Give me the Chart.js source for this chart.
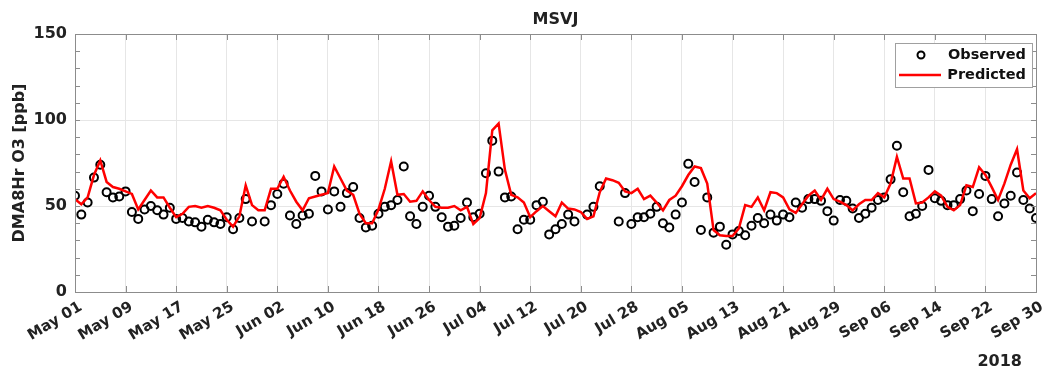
<!DOCTYPE html>
<html>
<head>
<meta charset="utf-8">
<script src="https://cdn.jsdelivr.net/npm/chart.js@4.4.0/dist/chart.umd.min.js"></script>
<style>
  body { margin: 0; background: #fff; }
</style>
</head>
<body>
<canvas id="o3Chart" width="1045" height="370"></canvas>
<script>
// one value per day, May 01 .. Sep 30 2018 (null = no observation)
const observed = [
  56, 45, 52, 66.5, 74, 58, 55, 55.5, 58.5, 46.5,
  42.5, 48, 50, 47.5, 45, 49, 42.5, 43, 41, 40.5,
  38, 42, 40.5, 39.5, 43.5, 36.5, 43, 54, 41, null,
  41, 50.5, 57, 63, 44.5, 39.5, 44.5, 45.5, 67.5, 58.5,
  48, 58.5, 49.5, 57.5, 61, 43, 37.5, 38.5, 45.5, 49.5,
  50.5, 53.5, 73, 44, 39.5, 49.5, 56, 49.5, 43.5, 38,
  38.5, 43, 52, 43.5, 45.5, 69, 88, 70, 55, 55.5,
  36.5, 42, 42, 50.5, 52.5, 33.5, 36.5, 39.5, 45, 41,
  null, 45, 49.5, 61.5, null, null, 41, 57.5, 39.5, 43.5,
  43.5, 45.5, 49.5, 40, 37.5, 45, 52, 74.5, 64, 36,
  55, 34.5, 38, 27.5, 33.5, 35.5, 33, 38.5, 43, 40,
  45, 41.5, 45, 43.5, 52, 49, 54, 54, 53, 47,
  41.5, 53.5, 53, 48.5, 43, 45.5, 49, 53.5, 55, 65.5,
  85, 58, 44, 45.5, 50, 71, 54.5, 53, 50.5, 50.5,
  54, 59, 47, 57, 67.5, 54, 44, 51.5, 56, 69.5,
  53.5, 48.5, 43
];
const predicted = [
  54, 51, 55, 68, 76.5, 64, 61, 60, 58.5, 57,
  48, 53.5, 59, 55, 55, 49, 43.5, 45.5, 49.5, 50,
  49, 50, 49, 47.5, 42, 38, 44, 62, 50.5, 47.5,
  47.5, 60, 60, 67, 59, 52.5, 47.5, 54.5, 55.5, 56.5,
  57.5, 73, 66, 59, 56.5, 45.5, 40, 40, 48, 60,
  76, 56.5, 57, 52.5, 53, 58.5, 53.5, 49.5, 49, 49,
  50, 47.5, 49.5, 39.5, 43, 57.5, 94, 98, 71, 56.5,
  55, 52, 43.5, 47, 50, 47, 44, 52, 48.5, 48,
  46.5, 42.5, 44, 58, 66, 65, 63.5, 58.5, 57.5, 60,
  54, 56, 52, 47.5, 53.5, 56, 61.5, 68, 73, 72,
  63, 36, 33, 32.5, 32.5, 37, 50.5, 49.5, 55, 47.5,
  58, 57.5, 55, 48, 46, 51, 56, 59, 53.5, 60,
  54, 52.5, 50.5, 47.5, 51, 53.5, 53.5, 57.5, 55, 63,
  78.5, 66, 66, 51.5, 52, 55, 58.5, 56, 49.5, 47.5,
  50.5, 62, 61, 72.5, 68, 61, 53.5, 63, 74, 83,
  59, 54.5, 57.5
];
const tickLabels = [
  'May 01', 'May 09', 'May 17', 'May 25', 'Jun 02', 'Jun 10', 'Jun 18',
  'Jun 26', 'Jul 04', 'Jul 12', 'Jul 20', 'Jul 28', 'Aug 05', 'Aug 13',
  'Aug 21', 'Aug 29', 'Sep 06', 'Sep 14', 'Sep 22', 'Sep 30'
];
// y ticks: labels at 0/50/100/150, minor marks every 10
const yTicks = [0, 10, 20, 30, 40, 50, 60, 70, 80, 90, 100, 110, 120, 130, 140, 150];

Chart.defaults.font.family = 'DejaVu Sans';
Chart.defaults.color = '#222';

const axisGray = '#8c8c8c';
const gridGray = '#e6e6e6';

// frame, inner tick marks, title, legend box and year label
const framePlugin = {
  id: 'framePlugin',
  afterDraw(chart) {
    const ctx = chart.ctx;
    const a = chart.chartArea;
    const xs = chart.scales.x;
    const ys = chart.scales.y;
    ctx.save();
    ctx.strokeStyle = axisGray;
    ctx.lineWidth = 1;
    ctx.beginPath();
    xs.ticks.forEach(t => {
      const px = Math.round(xs.getPixelForValue(t.value)) + 0.5;
      ctx.moveTo(px, a.bottom); ctx.lineTo(px, a.bottom - 6);
      ctx.moveTo(px, a.top); ctx.lineTo(px, a.top + 6);
    });
    ys.ticks.forEach(t => {
      const py = Math.round(ys.getPixelForValue(t.value)) + 0.5;
      ctx.moveTo(a.left, py); ctx.lineTo(a.left + 5, py);
      ctx.moveTo(a.right, py); ctx.lineTo(a.right - 5, py);
    });
    ctx.stroke();
    ctx.strokeRect(Math.round(a.left) + 0.5, Math.round(a.top) + 0.5,
      Math.round(a.right - a.left), Math.round(a.bottom - a.top));

    ctx.fillStyle = '#222';
    ctx.font = 'bold 16px "DejaVu Sans"';
    ctx.textAlign = 'center';
    ctx.textBaseline = 'alphabetic';
    ctx.fillText('MSVJ', (a.left + a.right) / 2, 24);

    ctx.textAlign = 'right';
    ctx.fillText('2018', 1022, 366);

    // legend
    const lx = 895, ly = 43, lw = 137, lh = 44;
    ctx.fillStyle = '#fff';
    ctx.fillRect(lx, ly, lw, lh);
    ctx.strokeStyle = '#a0a0a0';
    ctx.strokeRect(lx + 0.5, ly + 0.5, lw, lh);
    ctx.strokeStyle = '#000';
    ctx.lineWidth = 2;
    ctx.beginPath();
    ctx.arc(921, 55, 3.5, 0, Math.PI * 2);
    ctx.stroke();
    ctx.strokeStyle = '#ff0000';
    ctx.lineWidth = 2.5;
    ctx.beginPath();
    ctx.moveTo(899, 75); ctx.lineTo(941, 75);
    ctx.stroke();
    ctx.fillStyle = '#111';
    ctx.font = 'bold 14.5px "DejaVu Sans"';
    ctx.textAlign = 'right';
    ctx.textBaseline = 'middle';
    ctx.fillText('Observed', 1026, 55);
    ctx.fillText('Predicted', 1026, 75);
    ctx.restore();
  }
};

const chart = new Chart(document.getElementById('o3Chart'), {
  type: 'line',
  data: {
    datasets: [{
      label: 'Predicted',
      data: predicted.map((v, i) => ({ x: i, y: v })),
      borderColor: '#ff0000',
      borderWidth: 2.5,
      pointRadius: 0,
      tension: 0,
      order: 0
    }, {
      label: 'Observed',
      data: observed.map((v, i) => ({ x: i, y: v })),
      showLine: false,
      pointStyle: 'circle',
      pointRadius: 4,
      pointBorderWidth: 2,
      pointBorderColor: '#000',
      pointBackgroundColor: 'rgba(255,255,255,0)',
      order: 1
    }]
  },
  options: {
    responsive: false,
    animation: false,
    layout: { padding: { left: 0, top: 34, right: 9, bottom: 0 } },
    plugins: {
      legend: { display: false },
      title: { display: false },
      tooltip: { enabled: false }
    },
    scales: {
      x: {
        type: 'linear',
        min: 0,
        max: 152,
        border: { display: false },
        grid: { color: gridGray, drawTicks: false },
        ticks: {
          stepSize: 8,
          autoSkip: false,
          maxRotation: 31,
          minRotation: 31,
          padding: 6,
          labelOffset: 6,
          font: { size: 15, weight: 'bold' },
          callback: v => tickLabels[v / 8]
        },
        afterFit: s => {
          s.height = 78;
          s.paddingLeft = 0;
          s.paddingRight = 0;
        }
      },
      y: {
        min: 0,
        max: 150,
        border: { display: false },
        grid: {
          drawTicks: false,
          color: c => (c.tick.value % 50 === 0 ? gridGray : 'rgba(0,0,0,0)')
        },
        ticks: {
          padding: 8,
          autoSkip: false,
          font: { size: 16, weight: 'bold' },
          callback: v => (v % 50 === 0 ? v : '')
        },
        afterBuildTicks: s => { s.ticks = yTicks.map(v => ({ value: v })); },
        title: {
          display: true,
          text: 'DMA8Hr O3 [ppb]',
          font: { size: 16, weight: 'bold' },
          padding: { top: 10, bottom: 0 }
        },
        afterFit: s => { s.width = 75; }
      }
    }
  },
  plugins: [framePlugin]
});
</script>
</body>
</html>
